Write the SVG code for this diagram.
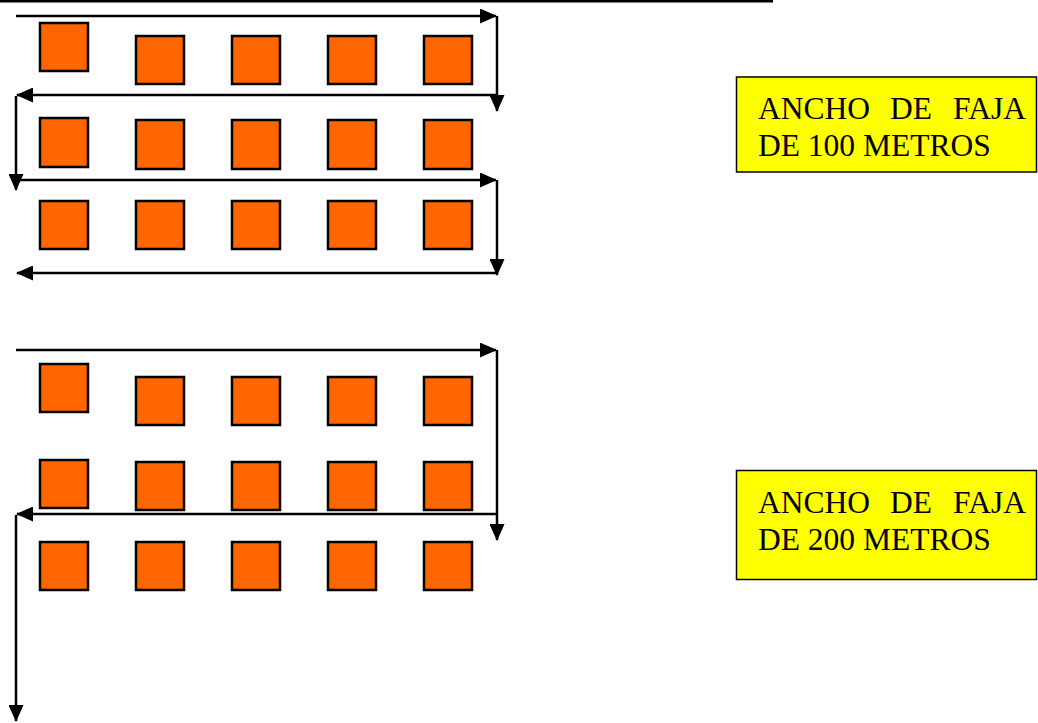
<svg xmlns="http://www.w3.org/2000/svg" width="1038" height="723" viewBox="0 0 1038 723">
  <style>
    .tree { fill: #FF6600; stroke: #000; stroke-width: 2.5; }
    .path { fill: none; stroke: #000; stroke-width: 2.5; }
    .label-box { fill: #FFFF00; stroke: #000; stroke-width: 1.5; }
    .label { font-family: "Liberation Serif", "Times New Roman", serif; font-size: 31.5px; fill: #000; }
  </style>
  <defs>
    <marker id="arrow" viewBox="0 0 17 15" refX="16" refY="7.5" markerWidth="17" markerHeight="15" markerUnits="userSpaceOnUse" orient="auto">
      <path d="M0,0 L17,7.5 L0,15 Z" fill="#000"/>
    </marker>
  </defs>

  <rect width="1038" height="723" fill="#fff"/>
  <!-- header rule -->
  <rect x="0" y="0" width="773" height="2.5" fill="#000"/>

  <!-- Strip 1: 100 m -->
  <g id="strip-100">
    <rect class="tree" x="40" y="23" width="48" height="48"/>
    <rect class="tree" x="136" y="36" width="48" height="48"/>
    <rect class="tree" x="232" y="36" width="48" height="48"/>
    <rect class="tree" x="328" y="36" width="48" height="48"/>
    <rect class="tree" x="424" y="36" width="48" height="48"/>

    <rect class="tree" x="40" y="118" width="48" height="49"/>
    <rect class="tree" x="136" y="120" width="48" height="49"/>
    <rect class="tree" x="232" y="120" width="48" height="49"/>
    <rect class="tree" x="328" y="120" width="48" height="49"/>
    <rect class="tree" x="424" y="120" width="48" height="49"/>

    <rect class="tree" x="40" y="201" width="48" height="48"/>
    <rect class="tree" x="136" y="201" width="48" height="48"/>
    <rect class="tree" x="232" y="201" width="48" height="48"/>
    <rect class="tree" x="328" y="201" width="48" height="48"/>
    <rect class="tree" x="424" y="201" width="48" height="48"/>
  </g>

  <!-- Strip 2: 200 m -->
  <g id="strip-200">
    <rect class="tree" x="40" y="364" width="48" height="48"/>
    <rect class="tree" x="136" y="377" width="48" height="48"/>
    <rect class="tree" x="232" y="377" width="48" height="48"/>
    <rect class="tree" x="328" y="377" width="48" height="48"/>
    <rect class="tree" x="424" y="377" width="48" height="48"/>

    <rect class="tree" x="40" y="460" width="48" height="48"/>
    <rect class="tree" x="136" y="462" width="48" height="48"/>
    <rect class="tree" x="232" y="462" width="48" height="48"/>
    <rect class="tree" x="328" y="462" width="48" height="48"/>
    <rect class="tree" x="424" y="462" width="48" height="48"/>

    <rect class="tree" x="40" y="542" width="48" height="48"/>
    <rect class="tree" x="136" y="542" width="48" height="48"/>
    <rect class="tree" x="232" y="542" width="48" height="48"/>
    <rect class="tree" x="328" y="542" width="48" height="48"/>
    <rect class="tree" x="424" y="542" width="48" height="48"/>
  </g>

  <!-- walking route -->
  <g id="connectors">
    <!-- 100 m strip -->
    <line class="path" x1="16" y1="16" x2="496" y2="16" marker-end="url(#arrow)"/>
    <line class="path" x1="497" y1="16" x2="497" y2="111" marker-end="url(#arrow)"/>
    <line class="path" x1="497" y1="95" x2="17" y2="95" marker-end="url(#arrow)"/>
    <line class="path" x1="16" y1="96" x2="16" y2="190" marker-end="url(#arrow)"/>
    <line class="path" x1="16" y1="180" x2="496" y2="180" marker-end="url(#arrow)"/>
    <line class="path" x1="497" y1="180" x2="497" y2="275" marker-end="url(#arrow)"/>
    <line class="path" x1="497" y1="273" x2="17" y2="273" marker-end="url(#arrow)"/>

    <!-- 200 m strip -->
    <line class="path" x1="16" y1="350" x2="496" y2="350" marker-end="url(#arrow)"/>
    <line class="path" x1="497" y1="350" x2="497" y2="540" marker-end="url(#arrow)"/>
    <line class="path" x1="497" y1="514" x2="17" y2="514" marker-end="url(#arrow)"/>
    <line class="path" x1="16" y1="515" x2="16" y2="721" marker-end="url(#arrow)"/>
  </g>

  <g id="label-100">
    <rect class="label-box" x="736.5" y="77" width="300" height="95"/>
    <text class="label" y="119"><tspan x="758">ANCHO</tspan><tspan x="890">DE</tspan><tspan x="953">FAJA</tspan></text>
    <text class="label" x="758" y="156">DE 100 METROS</text>
  </g>

  <g id="label-200">
    <rect class="label-box" x="736.5" y="470.5" width="300" height="109"/>
    <text class="label" y="513"><tspan x="758">ANCHO</tspan><tspan x="890">DE</tspan><tspan x="953">FAJA</tspan></text>
    <text class="label" x="758" y="550">DE 200 METROS</text>
  </g>
</svg>
